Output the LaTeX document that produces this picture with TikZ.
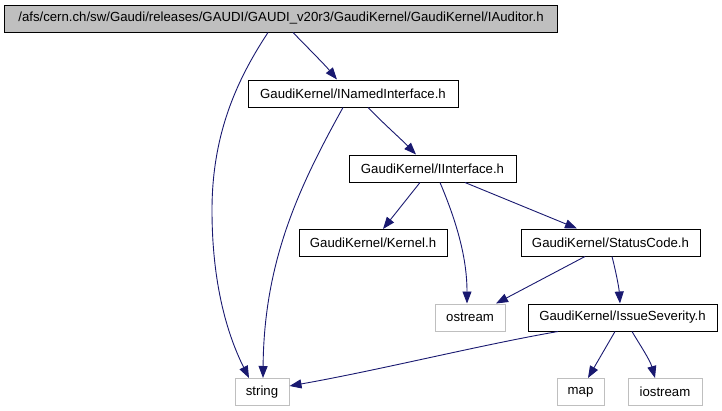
\documentclass[tikz,border=0pt]{standalone}
\usepackage{fontspec}
\setmainfont{Liberation Sans}
\usepackage{xcolor}
\usepackage{tikz}
\usetikzlibrary{arrows.meta}
\definecolor{edgeblue}{RGB}{25, 25, 112}
\definecolor{rootgray}{RGB}{191, 191, 191}

\begin{document}
\begin{tikzpicture}[
    x=1bp, y=-1bp,
    header/.style={rectangle, draw=black, fill=white, line width=1bp, minimum height=27bp, inner sep=0pt, font=\fontsize{13.2bp}{15bp}\selectfont},
    syshdr/.style={header, draw=rootgray},
    dep/.style={line width=0.9bp, color=edgeblue, ->, >={Triangle[length=12bp, width=9bp]}}
]
    \useasboundingbox (0,0) rectangle (722,410);

    \node[header, fill=rootgray, minimum width=552bp] (auditor) at (281, 18.5) {/afs/cern.ch/sw/Gaudi/releases/GAUDI/GAUDI\_v20r3/GaudiKernel/GaudiKernel/IAuditor.h};
    \node[header, minimum width=210bp] (named) at (353, 93.5) {GaudiKernel/INamedInterface.h};
    \node[header, minimum width=167bp] (iface) at (432.5, 168.5) {GaudiKernel/IInterface.h};
    \node[header, minimum width=148bp] (kernel) at (373, 243) {GaudiKernel/Kernel.h};
    \node[header, minimum width=179bp] (status) at (610.5, 242.5) {GaudiKernel/StatusCode.h};
    \node[syshdr, minimum width=70bp] (ostream) at (470, 317.5) {ostream};
    \node[header, minimum width=189bp] (severity) at (622.5, 317.5) {GaudiKernel/IssueSeverity.h};
    \node[syshdr, minimum width=54bp] (string) at (262, 392) {string};
    \node[syshdr, minimum width=47bp] (map) at (580.5, 392) {map};
    \node[syshdr, minimum width=74bp] (iostream) at (665, 392) {iostream};

    \draw[dep] ([xshift=12bp]auditor.south) .. controls (310,50) and (325,65) .. ([xshift=-16bp]named.north);
    \draw[dep] ([xshift=-13bp]auditor.south) .. controls (240,75) and (212,130) .. (212,210) .. controls (212,290) and (230,340) .. ([xshift=-13bp]string.north);
    \draw[dep] ([xshift=-10bp]named.south) .. controls (300,185) and (264,260) .. ([xshift=1bp]string.north);
    \draw[dep] ([xshift=15bp]named.south) .. controls (385,125) and (400,138) .. ([xshift=-16.5bp]iface.north);
    \draw[dep] ([xshift=-12.5bp]iface.south) -- ([xshift=10bp]kernel.north);
    \draw[dep] ([xshift=7.5bp]iface.south) .. controls (458,225) and (467,260) .. ([xshift=-3bp]ostream.north);
    \draw[dep] ([xshift=32.5bp]iface.south) -- ([xshift=-33.5bp]status.north);
    \draw[dep] ([xshift=-25.5bp]status.south) -- ([xshift=26bp]ostream.north);
    \draw[dep] ([xshift=1.5bp]status.south) .. controls (616,272) and (619,288) .. ([xshift=-2.5bp]severity.north);
    \draw[dep] ([xshift=-64.5bp]severity.south) .. controls (480,345) and (380,370) .. ([yshift=6bp]string.east);
    \draw[dep] ([xshift=-7.5bp]severity.south) -- ([xshift=7.5bp]map.north);
    \draw[dep] ([xshift=9.5bp]severity.south) .. controls (640,345) and (650,360) .. ([xshift=-10bp]iostream.north);
\end{tikzpicture}
\end{document}
